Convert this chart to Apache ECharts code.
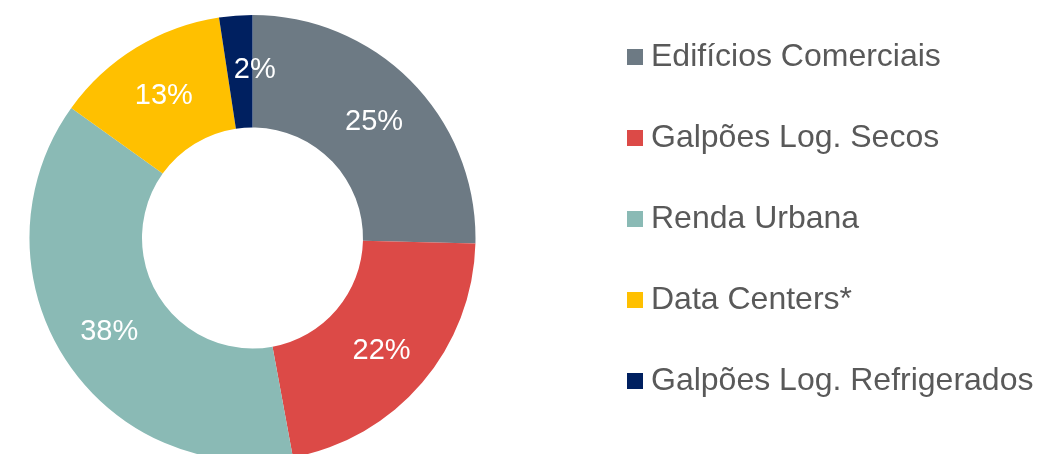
<!DOCTYPE html>
<html>
<head>
<meta charset="utf-8">
<script src="https://cdn.jsdelivr.net/npm/echarts@6/dist/echarts.min.js"></script>
<style>
  html, body { margin: 0; padding: 0; background: #fff; }
  #chart { width: 1039px; height: 454px; }
</style>
</head>
<body>
<div id="chart"></div>
<script>
// categories and shares (%)
const categories = ['Edifícios Comerciais', 'Galpões Log. Secos', 'Renda Urbana', 'Data Centers*', 'Galpões Log. Refrigerados']
const shares = [25.4, 21.7, 37.8, 12.7, 2.4]
const colors = ['#6D7A84', '#DC4A47', '#8ABAB5', '#FFC000', '#002060']

const myChart = echarts.init(document.getElementById('chart'))

const pieData = categories.map((name, i) => {
  const item = { name: name, value: shares[i], itemStyle: { color: colors[i] } }
  // the tiny slice's label sits a bit to the right, over the next slice
  if (i === 4) item.label = { offset: [15, 1] }
  return item
})

const options = {
  animation: false,
  textStyle: { fontFamily: '"Liberation Sans", Arial, sans-serif' },
  legend: {
    orient: 'vertical',
    left: 622,
    top: 36,
    icon: 'rect',
    itemWidth: 16,
    itemHeight: 16,
    itemGap: 49,
    selectedMode: false,
    textStyle: {
      fontSize: 32,
      lineHeight: 32,
      color: '#595959',
      padding: [0, 0, 0, 3]
    },
    data: categories
  },
  series: [{
    type: 'pie',
    center: [252.5, 238],
    radius: [110.5, 223],
    startAngle: 90,
    clockwise: true,
    emphasis: { disabled: true },
    label: {
      show: true,
      position: 'inside',
      color: '#fff',
      fontSize: 29,
      offset: [0, 3],
      formatter: (p) => Math.round(p.value) + '%'
    },
    labelLine: { show: false },
    data: pieData
  }]
}
myChart.setOption(options)
</script>
</body>
</html>
